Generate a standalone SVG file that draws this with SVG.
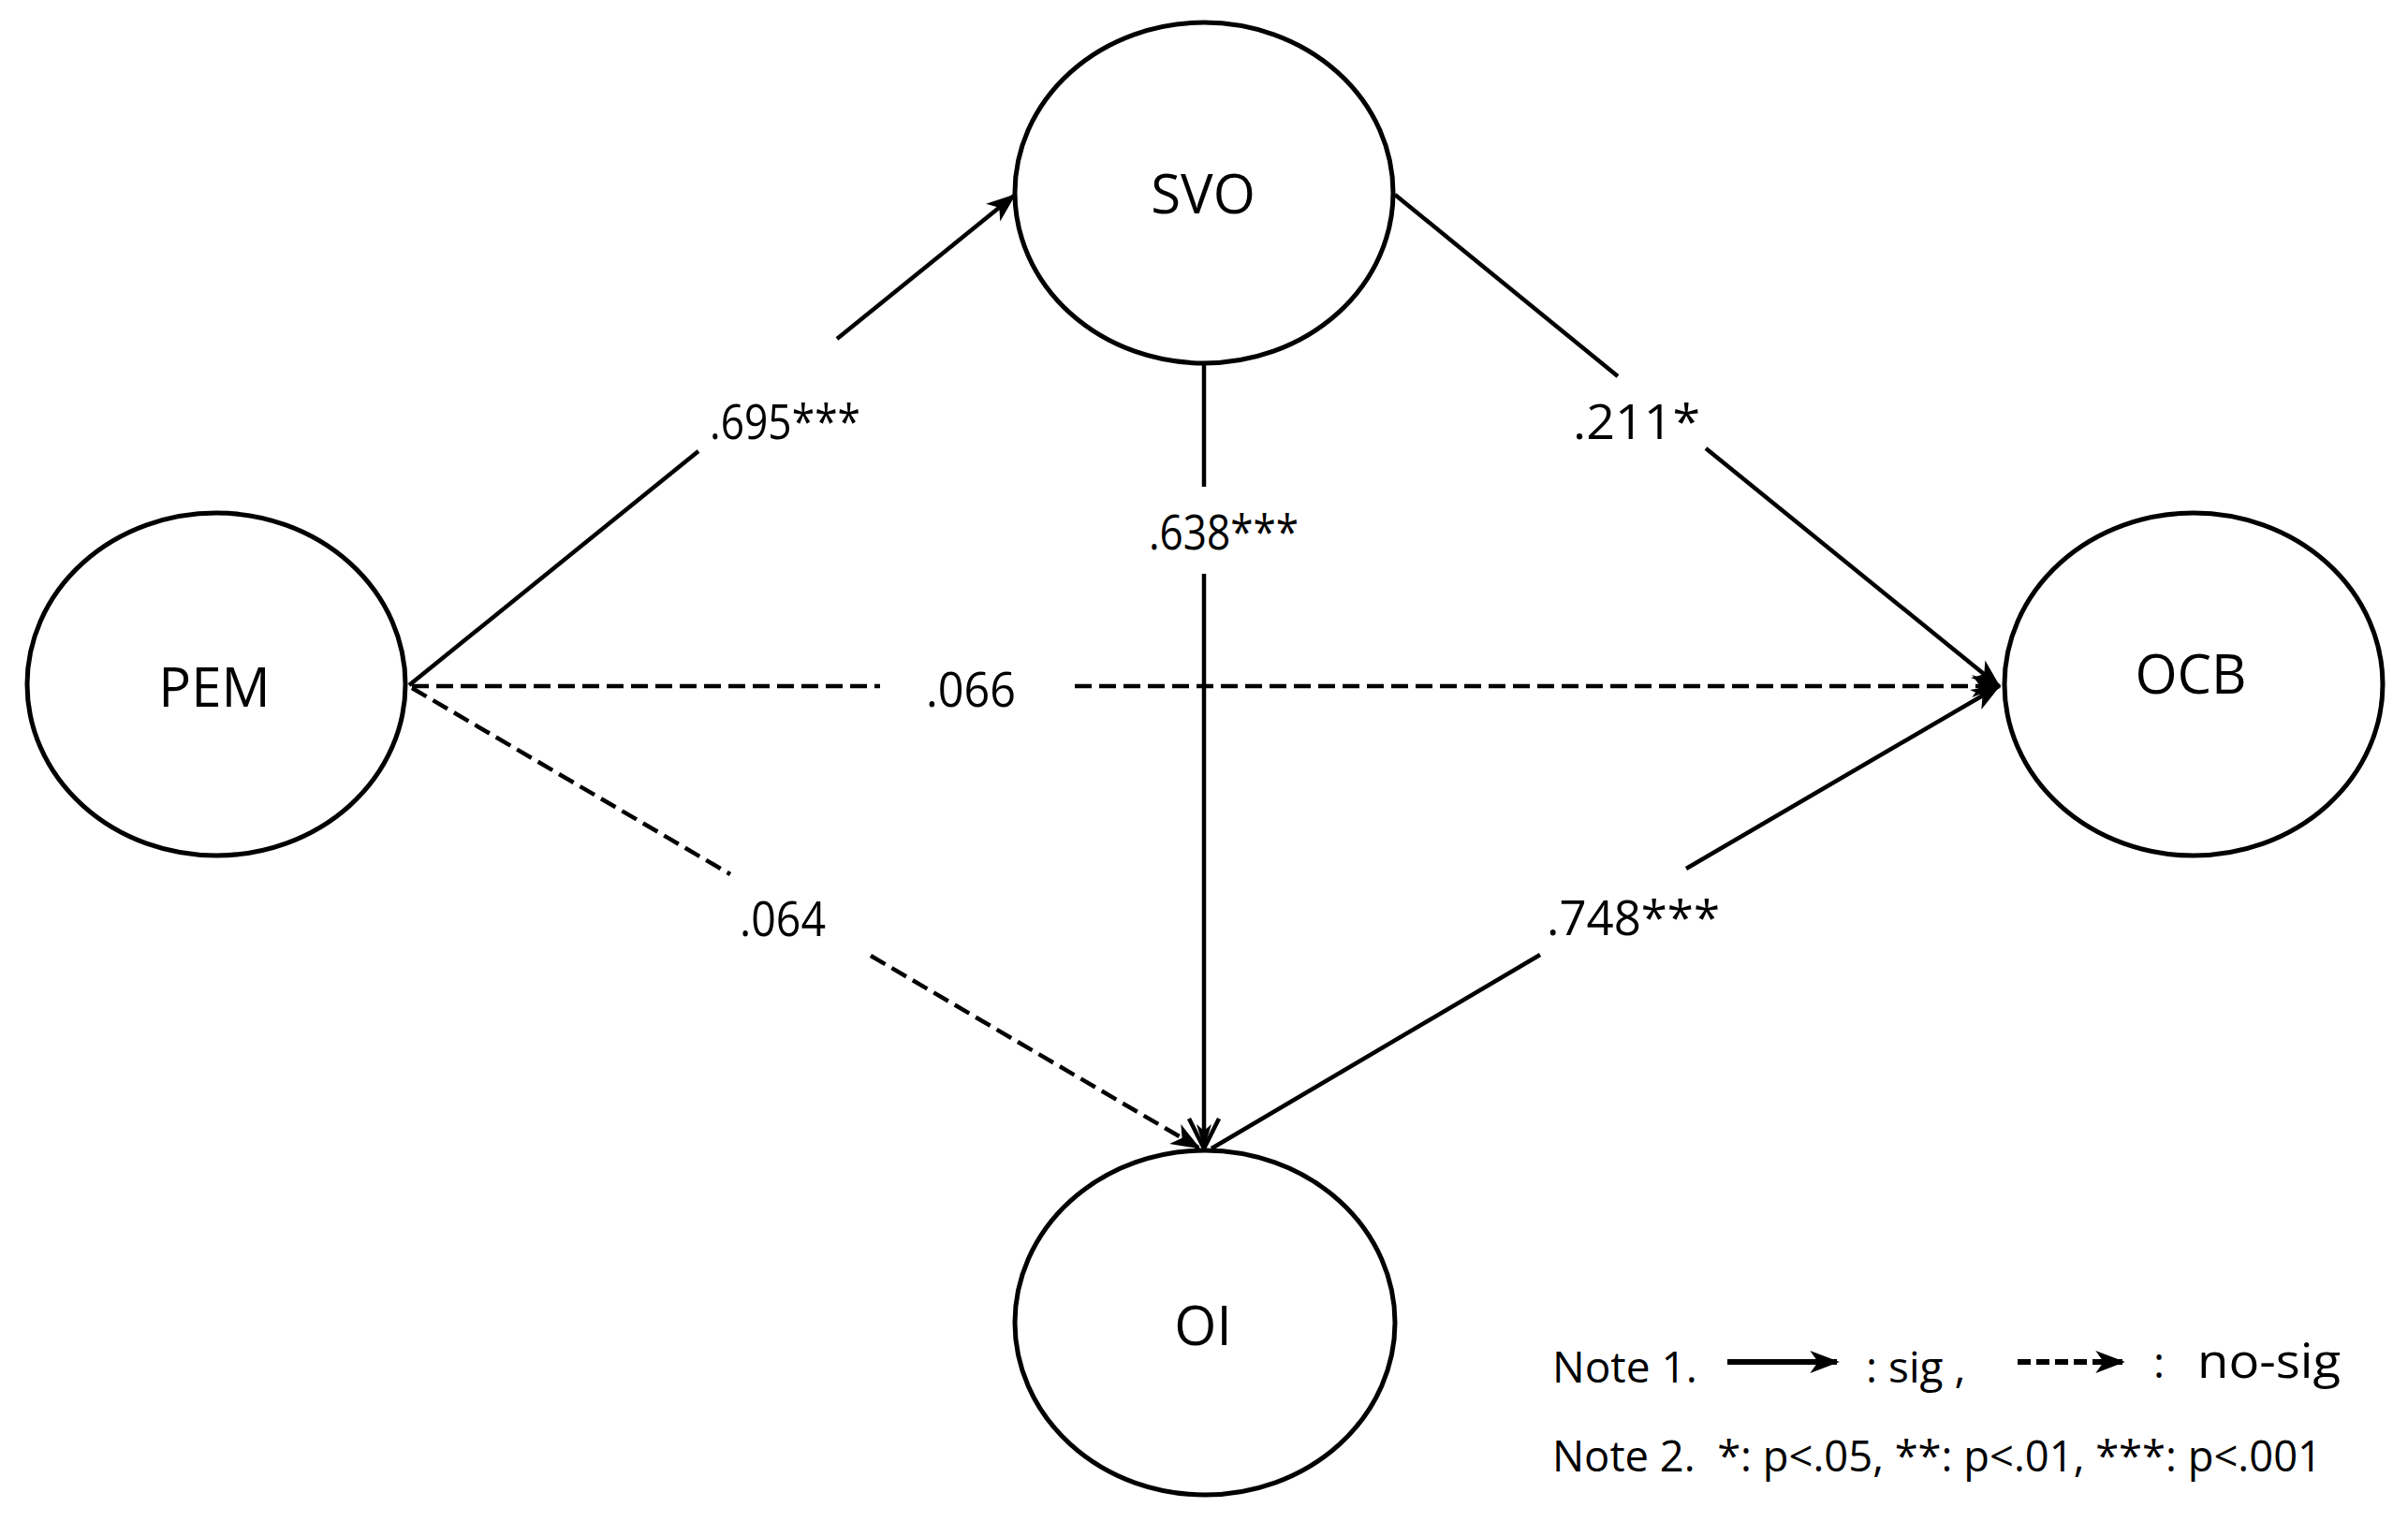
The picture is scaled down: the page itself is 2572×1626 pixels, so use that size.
<svg xmlns="http://www.w3.org/2000/svg" width="2572" height="1626" viewBox="0 0 2572 1626">
<style>
.node{fill:#fff;stroke:#000;stroke-width:5}
.nlab{font-family:"Open Sans","Noto Sans","Liberation Sans",sans-serif;font-size:58px;fill:#000;text-anchor:middle}
.elab{font-family:"Open Sans","Noto Sans","Liberation Sans",sans-serif;font-size:52px;fill:#000}
.leg{font-family:"Open Sans","Noto Sans","Liberation Sans",sans-serif;font-size:46px;fill:#000}
.sol{fill:none;stroke:#000;stroke-width:4.5}
.dsh{fill:none;stroke:#000;stroke-width:4.5;stroke-dasharray:18 8}
.lsol{fill:none;stroke:#000;stroke-width:6}
.ldsh{fill:none;stroke:#000;stroke-width:6;stroke-dasharray:14 6}
</style>
<defs>
<marker id="head" markerUnits="userSpaceOnUse" refX="0" refY="0" markerWidth="40" markerHeight="40" orient="auto" overflow="visible">
<path d="M0,0 L-26,-10 L-19,0 L-26,10 Z" fill="#000" stroke="#000" stroke-width="2"/>
</marker>
<marker id="vhead" markerUnits="userSpaceOnUse" refX="0" refY="0" markerWidth="50" markerHeight="50" orient="auto" overflow="visible">
<path d="M-32,-16 L0,0 L-32,16" fill="none" stroke="#000" stroke-width="4.5"/>
<path d="M0,0 L-26,-8 L-19,0 L-26,8 Z" fill="#000" stroke="none"/>
</marker>
</defs>
<rect width="2572" height="1626" fill="#fff"/>
<g id="connectors">
<path class="sol" d="M437,732 L746,482 M894,362 L1083,209" marker-end="url(#head)"/>
<path class="sol" d="M1490,208 L1728,402 M1822,479 L2135,733" marker-end="url(#head)"/>
<path class="sol" d="M1286,388 L1286,520 M1286,613 L1286,1227" marker-end="url(#vhead)"/>
<path class="dsh" d="M440,733 L940,733 M1148,733 L2135,733" marker-end="url(#head)"/>
<path class="dsh" d="M440,735 L780,934 M930,1021 L1280,1226" marker-end="url(#head)"/>
<path class="sol" d="M1294,1227 L1645,1020 M1801,928 L2135,733" marker-end="url(#head)"/>
<text class="elab" x="758" y="469" textLength="161" lengthAdjust="spacingAndGlyphs">.695***</text>
<text class="elab" x="1680" y="469" textLength="136" lengthAdjust="spacingAndGlyphs">.211*</text>
<text class="elab" x="1227" y="587" textLength="160" lengthAdjust="spacingAndGlyphs">.638***</text>
<text class="elab" x="989" y="755" textLength="96" lengthAdjust="spacingAndGlyphs">.066</text>
<text class="elab" x="790" y="1000" textLength="92" lengthAdjust="spacingAndGlyphs">.064</text>
<text class="elab" x="1652" y="999" textLength="185" lengthAdjust="spacingAndGlyphs">.748***</text>
</g>
<g id="PEM">
<ellipse class="node" cx="231" cy="731" rx="202" ry="183"/>
<text class="nlab" x="229" y="755">PEM</text>
</g>
<g id="SVO">
<ellipse class="node" cx="1286" cy="206" rx="202" ry="182"/>
<text class="nlab" x="1285" y="228">SVO</text>
</g>
<g id="OCB">
<ellipse class="node" cx="2343" cy="731" rx="202" ry="183"/>
<text class="nlab" x="2340" y="741">OCB</text>
</g>
<g id="OI">
<ellipse class="node" cx="1287" cy="1413" rx="203" ry="184"/>
<text class="nlab" x="1285" y="1437">OI</text>
</g>
<g id="legend">
<text class="leg" x="1658" y="1477">Note 1.</text>
<path class="lsol" d="M1845,1455 L1962,1455" marker-end="url(#head)"/>
<text class="leg" x="1993" y="1477">: sig ,</text>
<path class="ldsh" d="M2155,1455 L2267,1455" marker-end="url(#head)"/>
<text class="leg" x="2300" y="1472">:</text>
<text class="leg" x="2347" y="1472" style="font-size:52px" textLength="153" lengthAdjust="spacingAndGlyphs">no-sig</text>
<text class="leg" x="1658" y="1572" textLength="822" lengthAdjust="spacingAndGlyphs" xml:space="preserve">Note 2.  *: p&lt;.05, **: p&lt;.01, ***: p&lt;.001</text>
</g>
</svg>
